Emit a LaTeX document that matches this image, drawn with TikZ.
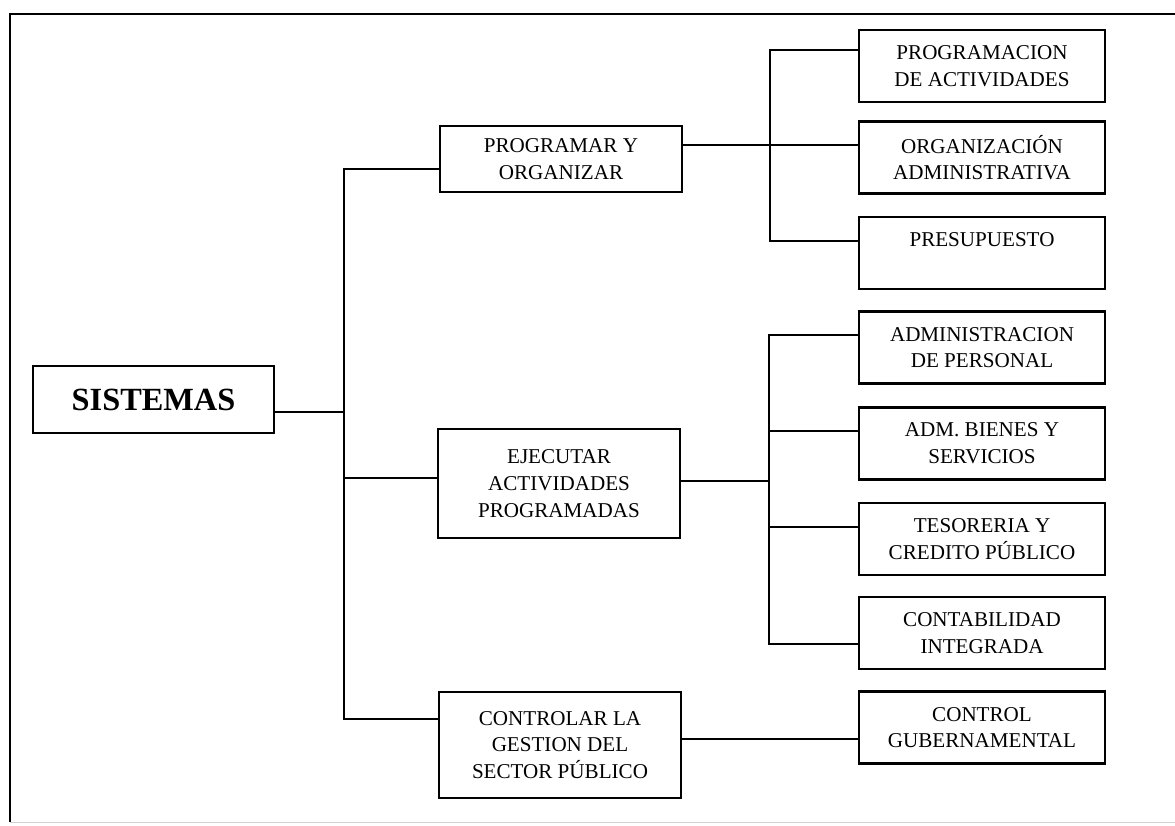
\documentclass[tikz,border=0pt]{standalone}
\usepackage{fontspec}
\setmainfont{Liberation Serif}
\begin{document}
\begin{tikzpicture}[x=0.025cm,y=-0.025cm,
  line width=1.8pt,
  box node/.style={draw,line width=1.8pt,minimum width=6.15cm,minimum height=1.8cm,
    inner sep=0pt,align=center,font=\fontsize{15}{19}\selectfont},
  mid node/.style={box node,minimum width=6.05cm}]

  \useasboundingbox (0,0) rectangle (1175,825);
  % frame
  \draw[line width=2pt] (1175,14) -- (10,14) -- (10,822);
  \draw[gray!35,line width=0.6pt] (10,822) -- (1175,822);

  \node[draw,line width=1.8pt,minimum width=6.02cm,minimum height=1.68cm,
    font=\fontsize{23}{27}\selectfont\bfseries] (sis) at (153.5,399.5) {SISTEMAS};

  \node[mid node,minimum height=1.65cm] (prog) at (561,159) {PROGRAMAR Y\\ORGANIZAR};
  \node[mid node,minimum height=2.72cm] (ejec) at (559,483.5) {EJECUTAR\\ACTIVIDADES\\PROGRAMADAS};
  \node[mid node,minimum height=2.65cm] (ctrl) at (560,745) {CONTROLAR LA\\GESTION DEL\\SECTOR PÚBLICO};

  \node[box node] (pa) at (982,66) {PROGRAMACION\\DE ACTIVIDADES};
  \node[box node] (oa) at (982,157.5) {ORGANIZACIÓN\\ADMINISTRATIVA};
  \node[box node] (pre) at (982,253) {PRESUPUESTO\\~};
  \node[box node] (ap) at (982,347.5) {ADMINISTRACION\\DE PERSONAL};
  \node[box node] (ab) at (982,443.5) {ADM. BIENES Y\\SERVICIOS};
  \node[box node] (tc) at (982,539) {TESORERIA Y\\CREDITO PÚBLICO};
  \node[box node] (ci) at (982,633) {CONTABILIDAD\\INTEGRADA};
  \node[box node] (cg) at (982,727.5) {CONTROL\\GUBERNAMENTAL};

  % junctions
  \coordinate (j0) at (344,412);
  \coordinate (jp) at (344,169);
  \coordinate (je) at (344,478);
  \coordinate (jc) at (344,719);
  \coordinate (ka) at (770,50);
  \coordinate (k1) at (770,145);
  \coordinate (kp) at (770,241);
  \coordinate (m1) at (769,335);
  \coordinate (m2) at (769,431);
  \coordinate (me) at (769,481);
  \coordinate (m3) at (769,527);
  \coordinate (m4) at (769,644);
  \coordinate (c1) at (770,739);

  \draw (sis.east |- j0) -- (j0);
  \draw (prog.west |- jp) -- (jp) -- (jc) -- (ctrl.west |- jc);
  \draw (je) -- (ejec.west |- je);

  \draw (pa.west |- ka) -- (ka) -- (kp) -- (pre.west |- kp);
  \draw (prog.east |- k1) -- (oa.west |- k1);

  \draw (ap.west |- m1) -- (m1) -- (m4) -- (ci.west |- m4);
  \draw (ejec.east |- me) -- (me);
  \draw (m2) -- (ab.west |- m2);
  \draw (m3) -- (tc.west |- m3);

  \draw (ctrl.east |- c1) -- (cg.west |- c1);
\end{tikzpicture}
\end{document}
